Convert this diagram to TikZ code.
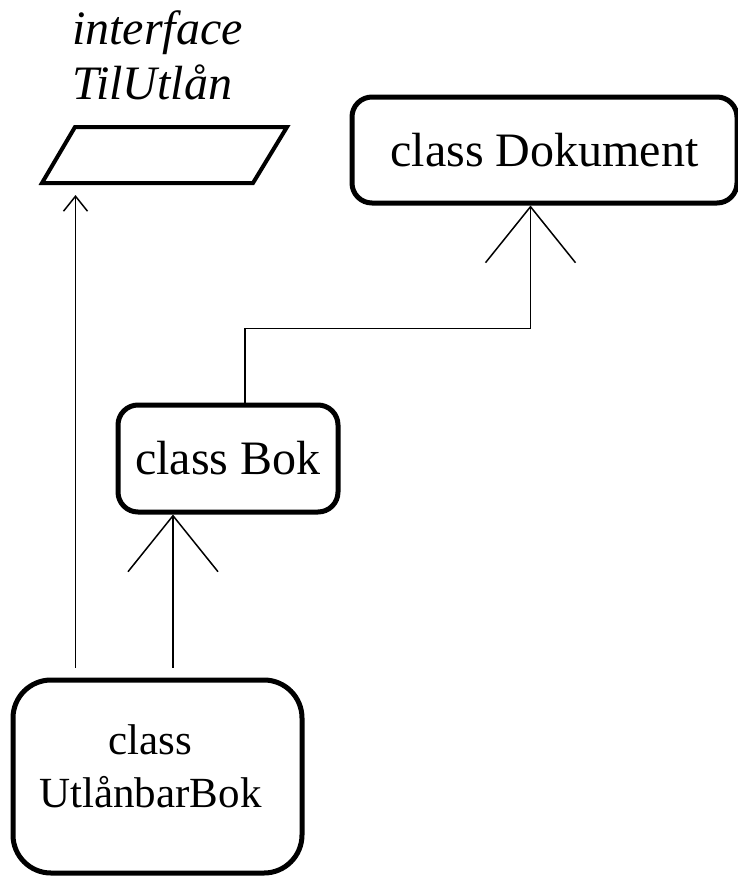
\documentclass[tikz,border=0pt]{standalone}
\usepackage{fontspec}
\setmainfont{Liberation Serif}
\usetikzlibrary{arrows.meta}

\begin{document}
\begin{tikzpicture}
[ x=1pt, y=-1pt
, font=\fontsize{48}{55}\selectfont
, classbox/.style={rectangle, rounded corners=20pt, draw, line width=5pt, inner sep=0pt}
, iface/.style={draw, line width=4pt, line join=miter}
, inherit/.style={line width=1.5pt, -{Straight Barb[length=56pt, width=90pt]}}
, realize/.style={line width=1.5pt, -{Straight Barb[length=15pt, width=24pt]}}
]
\useasboundingbox (0,0) rectangle (738,879);
% Classes:
\node (dok) [classbox, minimum width=385pt, minimum height=106pt] at (544.5,150) {class Dokument};
\node (bok) [classbox, minimum width=220pt, minimum height=107pt] at (228,458.5) {class Bok};
\node (utl) [classbox, minimum width=289pt, minimum height=193pt, rounded corners=38pt
  , label={[name=utlname, align=center, font=\fontsize{43}{53}\selectfont, xshift=-7pt, yshift=10pt]center:class\\UtlånbarBok}] at (157.5,776.5) {};
% Interface:
\draw [iface] (42,183) coordinate (ifcbl) -- (75,127) -- (287,127) -- (253,183) -- cycle;
\node (ifname) [anchor=south west, inner sep=0pt, align=left, font=\fontsize{48}{55}\selectfont\itshape] at (72,100) {interface\\TilUtlån};
% Connectors:
\coordinate (r0) at ([xshift=65pt]utl.north west);
\draw [realize, shorten <=10pt, shorten >=12pt] (r0) -- (r0 |- ifcbl);
\coordinate (i0) at ([xshift=-55pt]bok.south);
\draw [inherit, shorten <=10pt] (i0 |- utl.north) -- (i0);
\draw [inherit] ([xshift=17pt]bok.north) -- ++(0,-74) -| ([xshift=-14pt]dok.south);
\end{tikzpicture}
\end{document}
